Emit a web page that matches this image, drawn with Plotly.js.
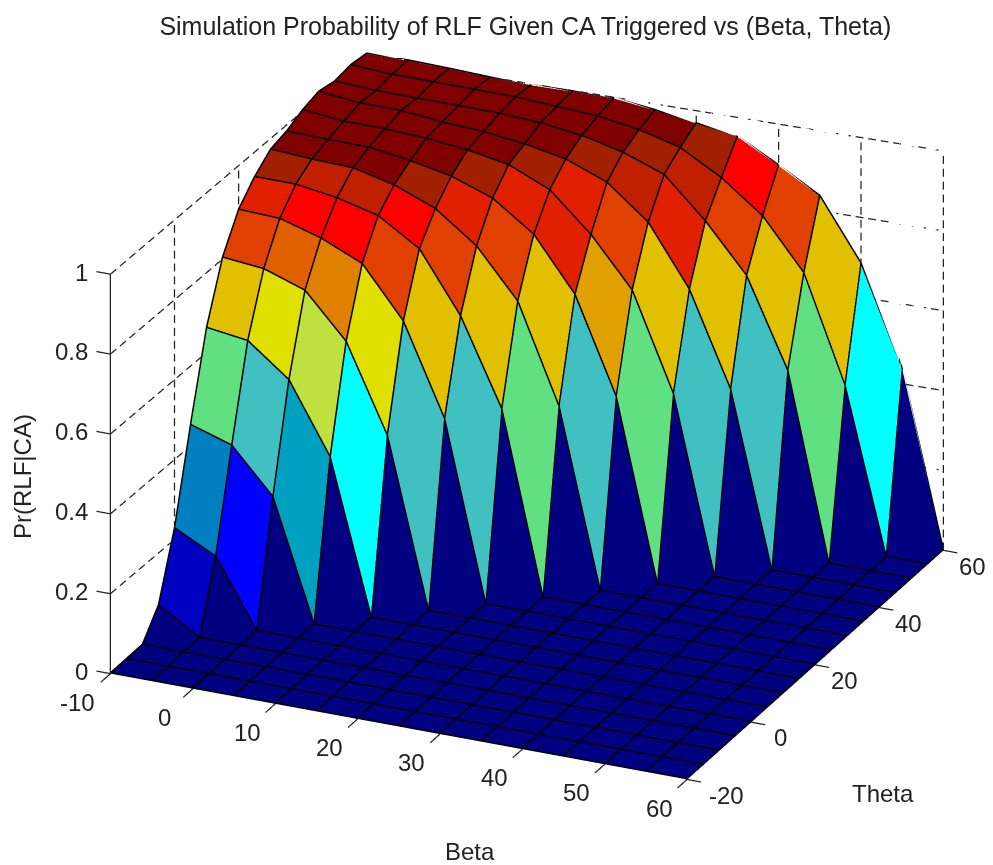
<!DOCTYPE html>
<html><head><meta charset="utf-8">
<script src="https://cdn.plot.ly/plotly-3.0.1.min.js"></script>
<style>html,body{margin:0;padding:0;background:#fff}#chart{width:993px;height:865px}</style>
</head><body><div id="chart"></div>
<script>
// ---------- data ----------
const betaValues  = [-10,-5,0,5,10,15,20,25,30,35,40,45,50,55,60];
const thetaValues = [-20,-15,-10,-5,0,5,10,15,20,25,30,35,40,45,50,55,60];
// Pr(RLF|CA): one row per beta, one entry per theta
const prBetaM10 = [0,0,0,.063,.22,.443,.65,.79,.874,.92,.953,.9625,.98,.99,.98,.985,.978];
const prBetaM5  = [0,0,0,0,.168,.41,.636,.78,.87,.92,.947,.96,.97,.98,.975,.98,.98];
const prBeta0   = [0,0,0,0,0,.30,.557,.745,.84,.905,.944,.96,.97,.98,.975,.98,.978];
const prBeta5   = [0,0,0,0,0,0,.383,.636,.795,.879,.92,.945,.965,.97,.975,.98,.975];
const prBeta10  = [0,0,0,0,0,0,0,.42,.67,.815,.88,.925,.955,.965,.975,.98,.975];
const prBeta15  = [0,0,0,0,0,0,0,0,.445,.666,.805,.889,.937,.953,.97,.975,.978];
const prBeta20  = [0,0,0,0,0,0,0,0,0,.4525,.686,.8175,.893,.934,.9575,.97,.98];
const prBeta25  = [0,0,0,0,0,0,0,0,0,0,.4425,.686,.80,.895,.934,.955,.969];
const prBeta30  = [0,0,0,0,0,0,0,0,0,0,0,.45,.68,.814,.8975,.929,.955];
const prBeta35  = [0,0,0,0,0,0,0,0,0,0,0,0,.44,.665,.80,.8725,.941];
const prBeta40  = [0,0,0,0,0,0,0,0,0,0,0,0,0,.434,.6825,.796,.8875];
const prBeta45  = [0,0,0,0,0,0,0,0,0,0,0,0,0,0,.464,.6725,.83];
const prBeta50  = [0,0,0,0,0,0,0,0,0,0,0,0,0,0,0,.41,.68];
const prBeta55  = [0,0,0,0,0,0,0,0,0,0,0,0,0,0,0,0,.436];
const prBeta60  = [0,0,0,0,0,0,0,0,0,0,0,0,0,0,0,0,0];
const prTable = [prBetaM10,prBetaM5,prBeta0,prBeta5,prBeta10,prBeta15,prBeta20,prBeta25,prBeta30,prBeta35,prBeta40,prBeta45,prBeta50,prBeta55,prBeta60];
// face colours along the diagonals theta-beta = 5,10,...,35, starting at beta=-10
const faceD5  = ['#0000c0','#0000ff','#00a0c0','#00ffff','#40c0c0','#40c0c0','#60e080','#40c0c0','#60e080','#40c0c0','#40c0c0','#60e080','#00ffff'];
const faceD10 = ['#0080c0','#40c0c0','#c0e040','#e0e000','#e0c000','#e0c000','#e0c000','#e0a000','#e0c000','#e0c000','#e0c000','#e0c000'];
const faceD15 = ['#60e080','#e0e000','#e08000','#e04000','#e04000','#e04000','#e02000','#e04000','#e02000','#e04000','#e04000'];
const faceD20 = ['#e0c000','#e06000','#ff0000','#ff0000','#e02000','#e02000','#e02000','#c02000','#c02000','#ff0000'];
const faceD25 = ['#e04000','#ff0000','#c02000','#a02000','#a02000','#a02000','#a02000','#a02000','#a02000'];
const faceD30 = ['#e02000','#c02000','#800000','#800000','#800000','#800000','#800000','#800000'];
const faceD35 = ['#a02000','#800000','#800000','#800000','#800000','#800000','#800000'];
const floorColor = '#000080', plateauColor = '#800000';
const faceDiagonals = {5:faceD5,10:faceD10,15:faceD15,20:faceD20,25:faceD25,30:faceD30,35:faceD35};
const betaTicks = [-10,0,10,20,30,40,50,60];
const thetaTicks = [-20,0,20,40,60];
const prTicks = [0,0.2,0.4,0.6,0.8,1];
const prTickLabels = ['0','0.2','0.4','0.6','0.8','1'];

// ---------- mesh ----------
const nb = betaValues.length, nt = thetaValues.length;
const X=[],Y=[],Z=[],I=[],J=[],K=[],FC=[];
const id=(b,t)=>b*nt+t;
betaValues.forEach((b,bi)=>thetaValues.forEach((t,ti)=>{X.push(b);Y.push(t);Z.push(prTable[bi][ti]);}));
for(let b=0;b<nb-1;b++)for(let t=0;t<nt-1;t++){
  const d=thetaValues[t]-betaValues[b];
  let c;
  if(d<=0) c=floorColor;
  else if(d>=40) c=plateauColor;
  else c=faceDiagonals[d][b];
  I.push(id(b,t),id(b,t));J.push(id(b+1,t),id(b+1,t+1));K.push(id(b+1,t+1),id(b,t+1));FC.push(c,c);
}
const surface={type:'mesh3d',x:X,y:Y,z:Z,i:I,j:J,k:K,facecolor:FC,flatshading:true,hoverinfo:'skip',showscale:false,
  lighting:{ambient:1,diffuse:0,specular:0,roughness:1,fresnel:0}};
// edges
const lift=0.002;
const ex=[],ey=[],ez=[];
for(let b=0;b<nb;b++){for(let t=0;t<nt;t++){ex.push(betaValues[b]);ey.push(thetaValues[t]);ez.push(prTable[b][t]+lift);}ex.push(null);ey.push(null);ez.push(null);}
for(let t=0;t<nt;t++){for(let b=0;b<nb;b++){ex.push(betaValues[b]);ey.push(thetaValues[t]);ez.push(prTable[b][t]+lift);}ex.push(null);ey.push(null);ez.push(null);}
const edges={type:'scatter3d',mode:'lines',x:ex,y:ey,z:ez,line:{color:'#000',width:3},hoverinfo:'skip',showlegend:false};
// dashed walls: each rule is split into short dashes
const bMin=-10,bMax=60,tMin=-20,tMax=60;
const backCornerDrop=0.03; // the reference's far corner sits slightly lower than a parallel projection gives
const gx=[],gy=[],gz=[];
const dashCount=(a,b)=>Math.round((Math.abs(b[0]-a[0])*8.4+Math.abs(b[1]-a[1])*4.3+Math.abs(b[2]-a[2])*400)/13);
const seg=(a,b)=>{
  const n=dashCount(a,b);
  for(let i=0;i<n;i++){
    const f0=i/n,f1=(i+0.62)/n;
    const p=f=>[a[0]+(b[0]-a[0])*f,a[1]+(b[1]-a[1])*f,a[2]+(b[2]-a[2])*f];
    const q0=p(f0),q1=p(f1);
    gx.push(q0[0],q1[0],null);gy.push(q0[1],q1[1],null);gz.push(q0[2],q1[2],null);
  }
};
const leftDrop=t=>backCornerDrop*(t-tMin)/(tMax-tMin);
const backDrop=b=>backCornerDrop*(bMax-b)/(bMax-bMin);
prTicks.forEach(z=>{seg([bMin,tMin,z],[bMin,tMax,z-backCornerDrop]);seg([bMin,tMax,z-backCornerDrop],[bMax,tMax,z]);});
thetaTicks.forEach(t=>seg([bMin,t,0-leftDrop(t)],[bMin,t,1-leftDrop(t)]));
betaTicks.forEach(b=>seg([b,tMax,0-backDrop(b)],[b,tMax,1-backDrop(b)]));
const walls={type:'scatter3d',mode:'lines',x:gx,y:gy,z:gz,line:{color:'#222',width:2.5},hoverinfo:'skip',showlegend:false};
// solid axis + ticks
const ax=[],ay=[],az=[];
const sseg=(a,b)=>{ax.push(a[0],b[0],null);ay.push(a[1],b[1],null);az.push(a[2],b[2],null);};
sseg([bMin,tMin,0],[bMin,tMin,1]);
prTicks.forEach(z=>sseg([bMin,tMin,z],[bMin-1.7,tMin,z]));
betaTicks.forEach(b=>sseg([b,tMin,0],[b,tMin-3,0]));
thetaTicks.forEach(t=>sseg([bMax,t,0],[bMax+1.7,t,0]));
const axes={type:'scatter3d',mode:'lines',x:ax,y:ay,z:az,line:{color:'#222',width:2.5},hoverinfo:'skip',showlegend:false};

// ---------- labels ----------
const tickFont={family:'Liberation Sans, Arial, sans-serif',size:24,color:'#222'};
const base={showarrow:false,font:tickFont};
const sceneAnn=[];
betaTicks.forEach(b=>sceneAnn.push({...base,x:b,y:tMin,z:0,text:String(b),xshift:b<0?-33:-28,yshift:-29}));
thetaTicks.forEach(t=>sceneAnn.push({...base,x:bMax,y:t,z:0,text:String(t),xshift:t<0?39:29,yshift:-16}));
prTicks.forEach((z,i)=>sceneAnn.push({...base,x:bMin,y:tMin,z:z,text:prTickLabels[i],xanchor:'right',xshift:-21,yshift:2}));

const hidden=r=>({range:r,autorange:false,showgrid:false,showline:false,zeroline:false,showticklabels:false,ticks:'',showbackground:false,showspikes:false,title:{text:''}});
const axisTitle={showarrow:false,font:tickFont,xref:'paper',yref:'paper',xanchor:'center',yanchor:'middle'};
const layout={
  width:993,height:865,margin:{l:0,r:0,t:0,b:0},paper_bgcolor:'#fff',showlegend:false,
  title:{text:'Simulation Probability of RLF Given CA Triggered vs (Beta, Theta)',x:0.529,xanchor:'center',y:0.97,yanchor:'middle',font:{family:'Liberation Sans, Arial, sans-serif',size:25,color:'#222'}},
  scene:{
    domain:{x:[0.0484,1],y:[0.034,1]},
    xaxis:hidden([-12,62]),
    yaxis:hidden([-24,60]),
    zaxis:hidden([-0.06,1.06]),
    aspectmode:'manual',aspectratio:{x:1.601,y:1.56,z:1.1705},
    camera:{projection:{type:'orthographic'},center:{x:0,y:0,z:0},up:{x:0,y:0,z:1},
      eye:{x:0.3773*2,y:-0.8328*2,z:0.405*2}},
    annotations:sceneAnn
  },
  annotations:[
    {...axisTitle,x:470/993,y:1-851/865,text:'Beta'},
    {...axisTitle,x:883/993,y:1-793/865,text:'Theta'},
    {...axisTitle,x:22/993,y:1-477/865,text:'Pr(RLF|CA)',textangle:-90}
  ]
};
Plotly.newPlot('chart',[surface,edges,walls,axes],layout,{displayModeBar:false});
</script></body></html>
